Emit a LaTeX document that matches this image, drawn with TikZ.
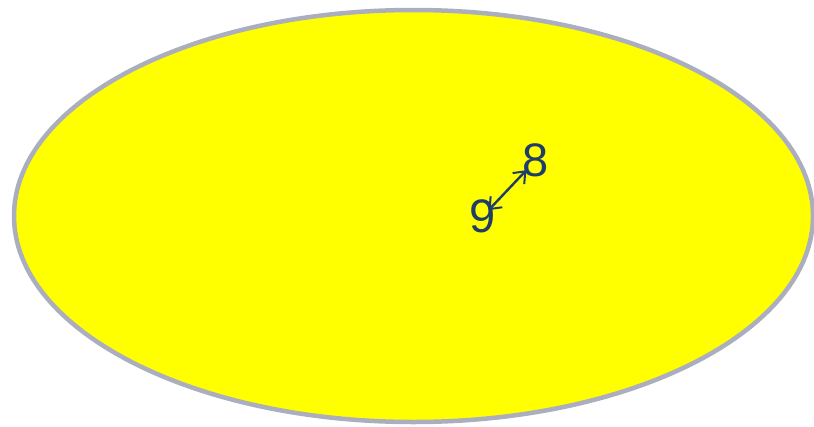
\documentclass[tikz,border=0pt]{standalone}
\usepackage{fontspec}
\setmainfont{Liberation Sans}
\usetikzlibrary{arrows.meta}
\definecolor{numblue}{RGB}{30,62,105}
\definecolor{rimgray}{RGB}{170,174,190}
\definecolor{discyellow}{RGB}{255,255,0}

\begin{document}
\begin{tikzpicture}[
  x=1pt, y=-1pt,
  >={Straight Barb[length=10pt,width=16pt,line width=2pt]},
  digit/.style={inner sep=0pt, text=numblue, font=\fontsize{47}{47}\selectfont}
]
\useasboundingbox (0,0) rectangle (814,426);

% yellow disc
\fill[discyellow, draw=rimgray, line width=4.5pt] (413.5,216) ellipse [x radius=399.5, y radius=206];

% the two digits
\node[digit] (n8) at (536,160) {8};
\node[digit] (n9) at (483,216) {9};

\draw[<->, numblue, line width=2.4pt, shorten <=8pt, shorten >=14pt] (n9.center) -- (n8.center);

\end{tikzpicture}
\end{document}
